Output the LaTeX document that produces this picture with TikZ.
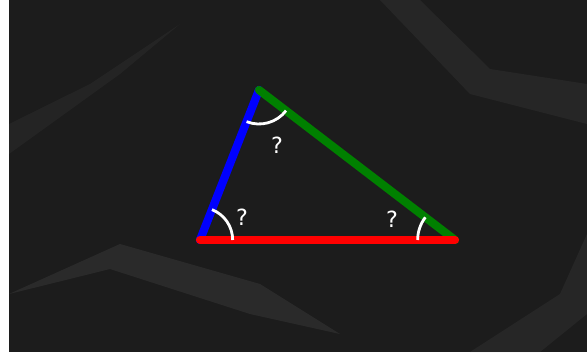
\documentclass[tikz,border=0pt]{standalone}
\usepackage{fontspec}
\setsansfont{DejaVu Sans}
\usetikzlibrary{angles,positioning}

\definecolor{paper}{RGB}{28,28,28}
\definecolor{crease}{RGB}{70,70,70}
\definecolor{sideblue}{RGB}{0,0,255}
\definecolor{sidegreen}{RGB}{0,128,0}
\definecolor{sidered}{RGB}{255,0,0}

\begin{document}
\begin{tikzpicture}[
    x=0.03cm, y=0.03cm,
    side/.style={line width=7pt, line cap=round},
    arcmark/.style={draw=white, line width=2.4pt},
    qlbl/.style={text=white, font=\sffamily\fontsize{19}{19}\selectfont, inner sep=0pt}
]
% paper background
\useasboundingbox (0,0) rectangle (587,354);
\fill[white] (0,0) rectangle (587,354);
\fill[paper] (9,2) rectangle (587,354);
\fill[crease, opacity=0.35] (9,60) -- (120,110) -- (260,70) -- (340,20) -- (250,40) -- (110,85) -- cycle;
\fill[crease, opacity=0.25] (380,354) -- (470,260) -- (587,230) -- (587,270) -- (490,285) -- (420,354) -- cycle;
\fill[crease, opacity=0.25] (470,2) -- (560,60) -- (587,120) -- (587,40) -- (540,2) -- cycle;
\fill[crease, opacity=0.2] (9,230) -- (90,270) -- (180,330) -- (120,280) -- (9,200) -- cycle;

% vertices
\coordinate (A) at (200,114);
\coordinate (B) at (259,264);
\coordinate (C) at (455,114);

% sides
\draw[side, sideblue] (A) -- (B);
\draw[side, sidegreen] (B) -- (C);
\draw[side, sidered] (A) -- (C);

% angle marks
\pic[arcmark, angle radius=0.98cm] {angle=C--A--B};
\pic[arcmark, angle radius=1.02cm] {angle=A--B--C};
\pic[arcmark, angle radius=1.12cm] {angle=B--C--A};

\node[qlbl] (qa) at (242,137) {?};
\node[qlbl] (qb) at (277,209) {?};
\node[qlbl] (qc) at (392,135) {?};
\end{tikzpicture}
\end{document}
